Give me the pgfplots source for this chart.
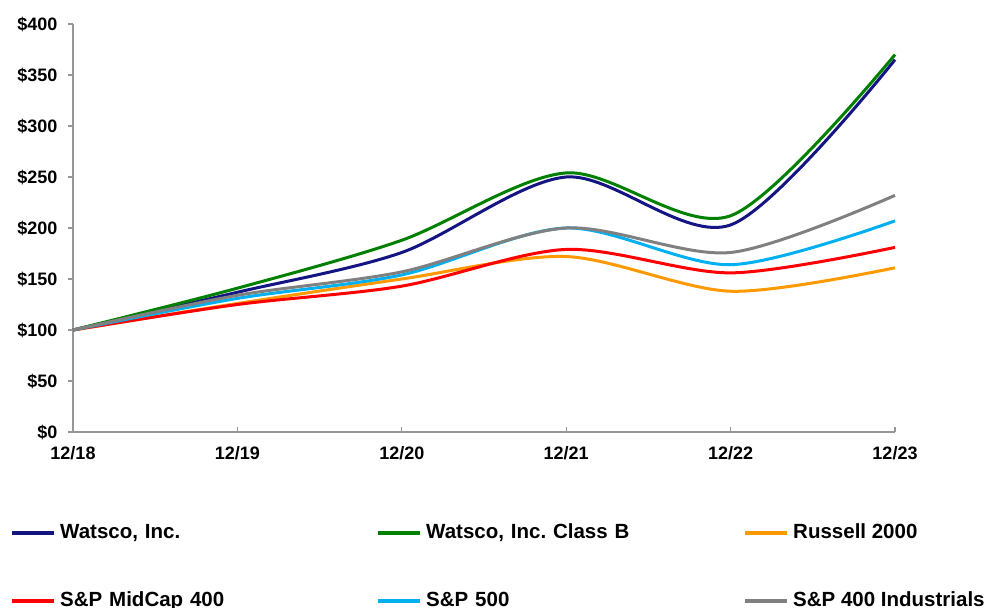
\documentclass[border=0pt]{standalone}
\usepackage{pgfplots}
\pgfplotsset{compat=1.18}
\usepackage{fontspec}
\setmainfont{Liberation Sans}
\frenchspacing
\definecolor{cnavy}{RGB}{20,20,130}
\definecolor{cgreen}{RGB}{0,128,0}
\definecolor{corange}{RGB}{255,153,0}
\definecolor{cred}{RGB}{255,0,0}
\definecolor{ccyan}{RGB}{0,176,240}
\definecolor{cgray}{RGB}{128,128,128}
\definecolor{axgray}{RGB}{150,150,150}
\begin{document}
\begin{tikzpicture}[x=1pt,y=1pt]
\begin{axis}[
  at={(73pt,176pt)}, anchor=south west,
  scale only axis, width=822pt, height=408pt,
  xmin=0, xmax=5, ymin=0, ymax=400,
  axis x line*=bottom, axis y line*=left,
  axis line style={axgray, line width=1.5pt},
  xtick={0,1,2,3,4,5},
  xticklabels={12/18,12/19,12/20,12/21,12/22,12/23},
  ytick={0,50,...,400},
  yticklabel={\$\pgfmathprintnumber{\tick}},
  tick align=inside,
  major tick length=5pt,
  tick style={axgray, line width=1.2pt},
  ytick style={xshift=-5pt},
  /pgf/number format/assume math mode=true,
  ticklabel style={font=\bfseries\fontsize{18}{20}\selectfont},
  yticklabel style={xshift=-12pt},
  xticklabel style={yshift=-11pt},
  clip=false,
  legend columns=3,
  legend cell align=left,
  legend image code/.code={\draw[#1,line width=4pt] (0pt,0pt) -- (42pt,0pt);},
  legend style={draw=none, fill=none,
    at={(axis description cs:-0.0766,-0.2255)}, anchor=north west,
    font=\bfseries\fontsize{20.5}{22}\selectfont,
    inner sep=0pt, row sep=50pt,
    nodes={inner sep=0pt, text height=14pt, text depth=4pt},
    /tikz/every odd column/.append style={column sep=4pt},
    /tikz/every even column/.append style={column sep=0pt},
    /tikz/column 2/.style={text width=316pt},
    /tikz/column 4/.style={text width=317pt},
  },
  every axis plot/.append style={line width=3pt, smooth, no markers},
]
\addplot[cnavy] coordinates {(0,100) (1,137) (2,176) (3,250) (4,203) (5,365)};
\addlegendentry{Watsco, Inc.}
\addplot[cgreen] coordinates {(0,100) (1,141) (2,188) (3,254) (4,212) (5,370)};
\addlegendentry{Watsco, Inc. Class B}
\addplot[corange] coordinates {(0,100) (1,126) (2,150) (3,172) (4,138) (5,161)};
\addlegendentry{Russell 2000}
\addplot[cred] coordinates {(0,100) (1,125) (2,143) (3,179) (4,156) (5,181)};
\addlegendentry{S\&P MidCap 400}
\addplot[ccyan] coordinates {(0,100) (1,131) (2,154) (3,200) (4,164) (5,207)};
\addlegendentry{S\&P 500}
\addplot[cgray] coordinates {(0,100) (1,134) (2,157) (3,200) (4,176) (5,232)};
\addlegendentry{S\&P 400 Industrials}
\end{axis}
\pgfresetboundingbox
\useasboundingbox (0,0) rectangle (986pt,608pt);
\end{tikzpicture}
\end{document}
